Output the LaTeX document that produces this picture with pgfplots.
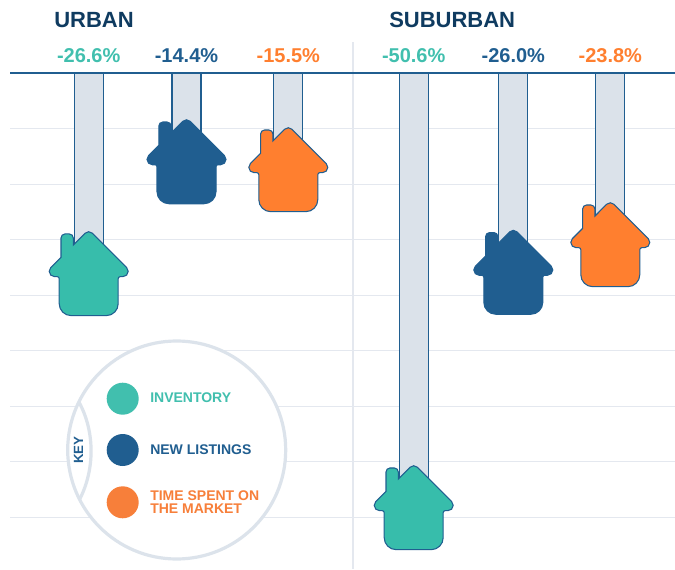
\documentclass[border=0pt]{standalone}
\usepackage{pgfplots}
\usepackage{pgfplotstable}
\usepackage{fontspec}
\setmainfont{Liberation Sans}
\pgfplotsset{compat=1.18}
\definecolor{teal}{HTML}{37BDAB}
\definecolor{tealt}{HTML}{41BFAE}
\definecolor{blue1}{HTML}{205E90}
\definecolor{navy}{HTML}{0F3B60}
\definecolor{orange1}{HTML}{FF7F2F}
\definecolor{oranget}{HTML}{F77F3A}
\definecolor{gridc}{HTML}{E4E8EF}
\definecolor{barc}{HTML}{DBE2EA}
\definecolor{keyc}{HTML}{DCE3EB}
\def\hp#1#2{\pgfpoint{#1*0.75pt}{#2*0.75pt}}
\def\hc#1#2#3#4#5#6{\pgfpathcurveto{\hp{#1}{#2}}{\hp{#3}{#4}}{\hp{#5}{#6}}}
\pgfdeclareplotmark{house}{%
  \pgfpathmoveto{\hp{-17.5}{0}}%
  \pgfpathlineto{\hp{17.5}{0}}%
  \hc{24.13}{0}{29.5}{5.37}{29.5}{12}%
  \pgfpathlineto{\hp{29.5}{37}}%
  \hc{29.5}{38.1}{30.4}{39}{31.5}{39}%
  \pgfpathlineto{\hp{34.2}{39}}%
  \hc{37.13}{39}{39.5}{41.37}{39.5}{44.3}%
  \hc{39.5}{45.71}{38.95}{47.05}{37.95}{48.05}%
  \pgfpathlineto{\hp{3.54}{82.47}}%
  \hc{1.59}{84.42}{-1.59}{84.42}{-3.54}{82.47}%
  \pgfpathlineto{\hp{-15.4}{70.6}}%
  \pgfpathlineto{\hp{-15.4}{77.7}}%
  \hc{-15.4}{79.9}{-17.2}{81.7}{-19.4}{81.7}%
  \pgfpathlineto{\hp{-23.7}{81.7}}%
  \hc{-25.9}{81.7}{-27.7}{79.9}{-27.7}{77.7}%
  \pgfpathlineto{\hp{-27.7}{58.3}}%
  \pgfpathlineto{\hp{-37.95}{48.05}}%
  \hc{-38.95}{47.05}{-39.5}{45.71}{-39.5}{44.3}%
  \hc{-39.5}{41.37}{-37.13}{39}{-34.2}{39}%
  \pgfpathlineto{\hp{-31.5}{39}}%
  \hc{-30.4}{39}{-29.5}{38.1}{-29.5}{37}%
  \pgfpathlineto{\hp{-29.5}{12}}%
  \hc{-29.5}{5.37}{-24.13}{0}{-17.5}{0}%
  \pgfpathclose
  \pgfusepathqfillstroke
}
% x = bar centre, drop = depth as drawn, label = printed change
\pgfplotstableread{
x drop lab
88.7 -26.2 26.6
413.7 -51.5 50.6
}\inventory
\pgfplotstableread{
x drop lab
186.5 -14.1 14.4
513.3 -26.05 26.0
}\listings
\pgfplotstableread{
x drop lab
288.3 -14.96 15.5
610.3 -23.07 23.8
}\market
\begin{document}
\begin{tikzpicture}[x=1pt,y=1pt]
\path[use as bounding box] (0,0) rectangle (506.25,426.75);
\begin{axis}[
  at={(7.5pt,0pt)}, anchor=south west,
  scale only axis, width=498.75pt, height=426.75pt,
  xmin=10, xmax=675, ymin=-53.59, ymax=7.924,
  clip=false,
  axis line style={draw=none},
  tick style={draw=none},
  xtick=\empty,
  ytick={-6,-12,-18,-24,-30,-36,-42,-48},
  yticklabels={},
  ymajorgrids,
  grid style={gridc,line width=0.9pt},
  barplot/.style={ybar, bar width=21.75pt, bar shift=0pt, draw=blue1, fill=barc, line width=0.9pt},
  houses/.style={only marks, mark=house, mark options={solid,draw=blue1,fill=#1,line width=0.8pt}},
  vals/.style={only marks, mark=none, nodes near coords={-\pgfplotspointmeta\%}, point meta=explicit symbolic,
    nodes near coords align={center}, nodes near coords style={anchor=center,font=\fontsize{15}{15}\selectfont\bfseries,text=#1}},
]
\addplot[gridc,line width=0.9pt,forget plot] coordinates {(353,3.38)(353,-53.59)};
\addplot[barplot,forget plot] table[x=x,y=drop] {\inventory};
\addplot[barplot,forget plot] table[x=x,y=drop] {\listings};
\addplot[barplot,forget plot] table[x=x,y=drop] {\market};
\addplot[blue1,line width=1.2pt,forget plot] coordinates {(10,0)(675,0)};
\addplot[houses=teal] table[x=x,y=drop] {\inventory};
\addplot[houses=blue1] table[x=x,y=drop] {\listings};
\addplot[houses=orange1] table[x=x,y=drop] {\market};
\addplot[vals=tealt] table[x=x,y expr=1.87,meta=lab] {\inventory};
\addplot[vals=blue1] table[x=x,y expr=1.87,meta=lab] {\listings};
\addplot[vals=orange1] table[x=x,y expr=1.87,meta=lab] {\market};
\end{axis}
\begin{scope}[x=0.75pt,y=-0.75pt,yshift=426.75pt]
\node[anchor=west,inner sep=0pt,text=navy,font=\fontsize{16.5}{16.5}\selectfont\bfseries] at (54,20) {URBAN};
\node[anchor=west,inner sep=0pt,text=navy,font=\fontsize{16.5}{16.5}\selectfont\bfseries] at (389,20) {SUBURBAN};
\draw[keyc,line width=2.4pt,fill=white] (176.7,450) circle[radius=109];
\draw[keyc,line width=2.4pt] (79.3,402.7) .. controls (95,432) and (95,470) .. (79.3,500);
\fill[tealt] (122.7,398.7) circle[radius=16];
\fill[blue1] (122.7,450) circle[radius=16];
\fill[oranget] (122.7,502.3) circle[radius=16];
\node[anchor=west,inner sep=0pt,text=tealt,font=\fontsize{10.5}{10.5}\selectfont\bfseries] at (150,398) {INVENTORY};
\node[anchor=west,inner sep=0pt,text=blue1,font=\fontsize{10.5}{10.5}\selectfont\bfseries] at (150,450) {NEW LISTINGS};
\node[anchor=west,inner sep=0pt,align=left,text=oranget,font=\fontsize{10.5}{9.75}\selectfont\bfseries] at (150,502) {TIME SPENT ON\\THE MARKET};
\node[rotate=90,inner sep=0pt,text=blue1,font=\fontsize{10}{10}\selectfont\bfseries] at (78.5,450) {KEY};
\end{scope}
\end{tikzpicture}
\end{document}
